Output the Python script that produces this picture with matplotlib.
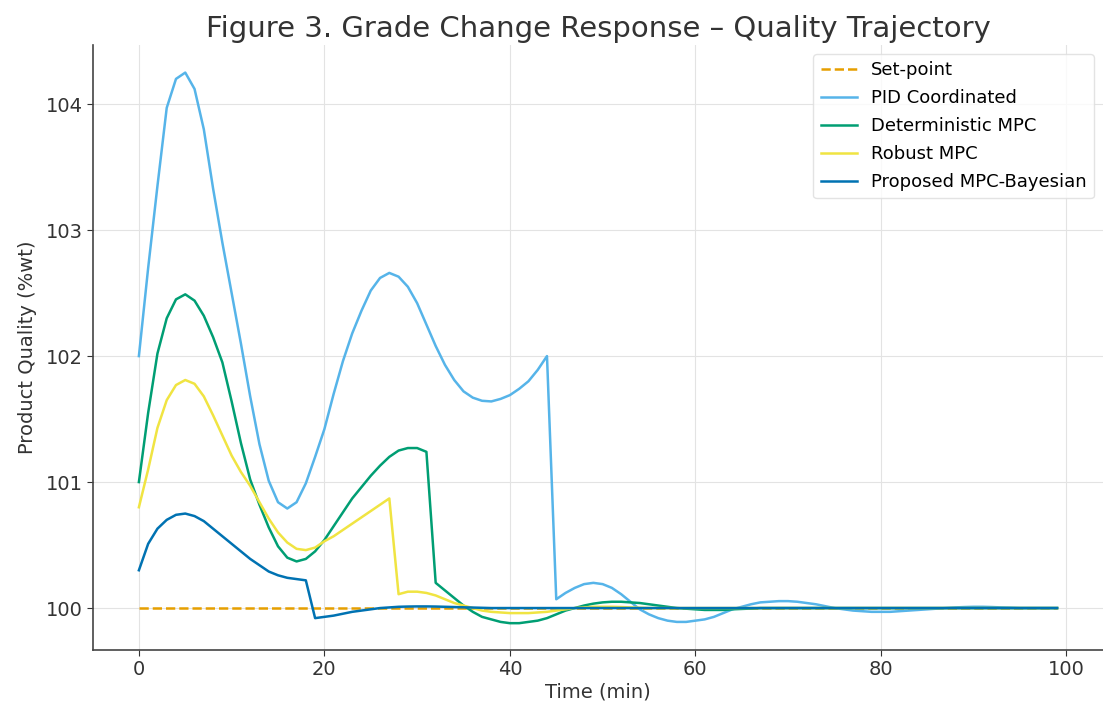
import numpy as np
import matplotlib
matplotlib.use("Agg")
import matplotlib.pyplot as plt

# time axis (min)
time = np.arange(100)

setpoint = [100.0] * 100

pid = [102.00, 102.70, 103.35, 103.97, 104.20, 104.25, 104.12, 103.80, 103.33, 102.90,
       102.50, 102.10, 101.68, 101.30, 101.01, 100.84, 100.79, 100.84, 100.99, 101.20,
       101.42, 101.70, 101.96, 102.18, 102.36, 102.52, 102.62, 102.66, 102.63, 102.55,
       102.42, 102.25, 102.08, 101.93, 101.81, 101.72, 101.67, 101.645, 101.64, 101.66,
       101.69, 101.74, 101.80, 101.89, 102.00, 100.07, 100.12, 100.16, 100.19, 100.20,
       100.19, 100.16, 100.11, 100.05, 99.99, 99.95, 99.92, 99.90, 99.89, 99.89,
       99.90, 99.91, 99.93, 99.96, 99.99, 100.01, 100.03, 100.045, 100.05, 100.055,
       100.055, 100.05, 100.04, 100.03, 100.015, 100.00, 99.99, 99.98, 99.975, 99.97,
       99.97, 99.97, 99.975, 99.98, 99.985, 99.99, 99.995, 100.00, 100.005, 100.008,
       100.01, 100.01, 100.008, 100.005, 100.003, 100.0, 100.0, 100.0, 100.0, 100.0]

det_mpc = [101.00, 101.55, 102.02, 102.30, 102.45, 102.49, 102.44, 102.32, 102.15, 101.95,
           101.64, 101.31, 101.02, 100.82, 100.64, 100.49, 100.40, 100.37, 100.39, 100.45,
           100.54, 100.65, 100.76, 100.87, 100.96, 101.05, 101.13, 101.20, 101.25, 101.27,
           101.27, 101.24, 100.20, 100.14, 100.08, 100.02, 99.97, 99.93, 99.91, 99.89,
           99.88, 99.88, 99.89, 99.90, 99.92, 99.95, 99.98, 100.00, 100.02, 100.035,
           100.045, 100.05, 100.05, 100.045, 100.04, 100.03, 100.02, 100.01, 100.00, 99.995,
           99.99, 99.985, 99.985, 99.985, 99.99, 99.993, 99.996, 100.0, 100.0, 100.0,
           100.0, 100.0, 100.0, 100.0, 100.0, 100.0, 100.0, 100.0, 100.0, 100.0,
           100.0, 100.0, 100.0, 100.0, 100.0, 100.0, 100.0, 100.0, 100.0, 100.0,
           100.0, 100.0, 100.0, 100.0, 100.0, 100.0, 100.0, 100.0, 100.0, 100.0]

robust_mpc = [100.80, 101.10, 101.43, 101.65, 101.77, 101.81, 101.78, 101.68, 101.53, 101.37,
              101.21, 101.08, 100.97, 100.84, 100.71, 100.60, 100.52, 100.47, 100.46, 100.48,
              100.53, 100.57, 100.62, 100.67, 100.72, 100.77, 100.82, 100.87, 100.11, 100.13,
              100.13, 100.12, 100.10, 100.07, 100.04, 100.02, 100.00, 99.98, 99.97, 99.965,
              99.96, 99.96, 99.96, 99.965, 99.97, 99.98, 99.99, 100.00, 100.005, 100.01,
              100.01, 100.01, 100.008, 100.005, 100.003, 100.0, 100.0, 100.0, 100.0, 100.0,
              100.0, 100.0, 100.0, 100.0, 100.0, 100.0, 100.0, 100.0, 100.0, 100.0,
              100.0, 100.0, 100.0, 100.0, 100.0, 100.0, 100.0, 100.0, 100.0, 100.0,
              100.0, 100.0, 100.0, 100.0, 100.0, 100.0, 100.0, 100.0, 100.0, 100.0,
              100.0, 100.0, 100.0, 100.0, 100.0, 100.0, 100.0, 100.0, 100.0, 100.0]

bayes_mpc = [100.30, 100.51, 100.63, 100.70, 100.74, 100.75, 100.73, 100.69, 100.63, 100.57,
             100.51, 100.45, 100.39, 100.34, 100.29, 100.26, 100.24, 100.23, 100.22, 99.92,
             99.93, 99.94, 99.955, 99.97, 99.98, 99.99, 100.00, 100.005, 100.01, 100.012,
             100.013, 100.013, 100.012, 100.01, 100.008, 100.006, 100.004, 100.002, 100.0, 100.0,
             100.0, 100.0, 100.0, 100.0, 100.0, 100.0, 100.0, 100.0, 100.0, 100.0,
             100.0, 100.0, 100.0, 100.0, 100.0, 100.0, 100.0, 100.0, 100.0, 100.0,
             100.0, 100.0, 100.0, 100.0, 100.0, 100.0, 100.0, 100.0, 100.0, 100.0,
             100.0, 100.0, 100.0, 100.0, 100.0, 100.0, 100.0, 100.0, 100.0, 100.0,
             100.0, 100.0, 100.0, 100.0, 100.0, 100.0, 100.0, 100.0, 100.0, 100.0,
             100.0, 100.0, 100.0, 100.0, 100.0, 100.0, 100.0, 100.0, 100.0, 100.0]

fig = plt.figure(figsize=(11.03, 7.05), dpi=100)
ax = fig.add_axes([0.0843, 0.078, 0.9157, 0.858])

lw = 1.8
ax.plot(time, setpoint, '--', color='#E69F00', lw=lw, label='Set-point')
ax.plot(time, pid, color='#56B4E9', lw=lw, label='PID Coordinated')
ax.plot(time, det_mpc, color='#009E73', lw=lw, label='Deterministic MPC')
ax.plot(time, robust_mpc, color='#F0E442', lw=lw, label='Robust MPC')
ax.plot(time, bayes_mpc, color='#0072B2', lw=lw, label='Proposed MPC-Bayesian')

ax.set_xlim(-4.95, 103.95)
ax.set_ylim(99.667, 104.468)
ax.set_xticks([0, 20, 40, 60, 80, 100])
ax.set_yticks([100, 101, 102, 103, 104])

ax.grid(True, color='#e3e3e3', lw=0.8)
ax.set_axisbelow(True)
for s in ['top', 'right']:
    ax.spines[s].set_visible(False)
for s in ['left', 'bottom']:
    ax.spines[s].set_color('#444444')
    ax.spines[s].set_linewidth(1.2)
ax.tick_params(colors='#333333', labelsize=14, length=4)

ax.set_title('Figure 3. Grade Change Response \u2013 Quality Trajectory',
             fontsize=21, color='#333333', pad=6)
ax.set_xlabel('Time (min)', fontsize=14, color='#333333', labelpad=2)
ax.set_ylabel('Product Quality (%wt)', fontsize=14, color='#333333', labelpad=6)

leg = ax.legend(loc='upper right', fontsize=13, frameon=True, borderaxespad=0.5,
                labelspacing=0.55)
leg.get_frame().set_edgecolor('#dddddd')

fig.savefig('out.png', dpi=100)
